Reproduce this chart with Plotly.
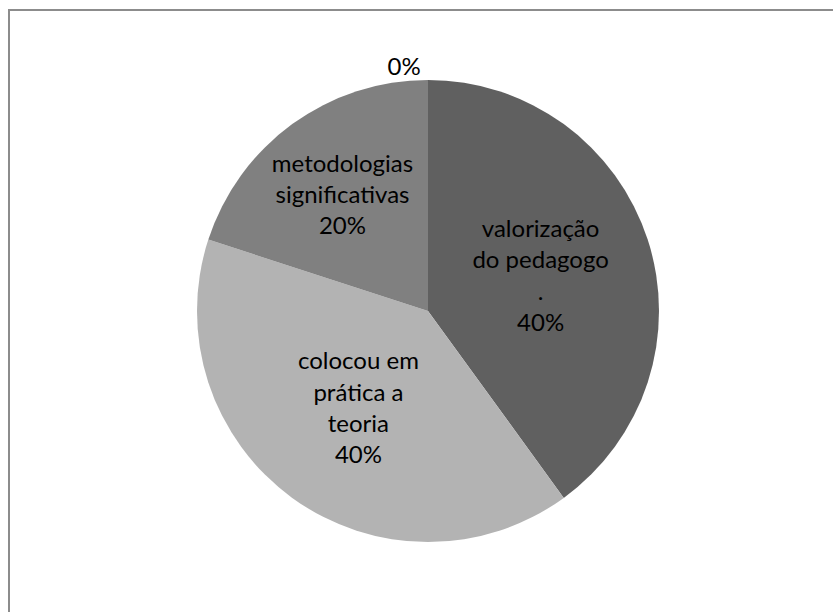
import plotly.graph_objects as go

# Category names as shown in the slice labels (line breaks included)
categories = [
    "valorização<br>do pedagogo<br>.",
    "colocou em<br>prática a<br>teoria",
    "metodologias<br>significativas",
    "",
]
shares = [40, 40, 20, 0]
slice_colors = ["#606060", "#b3b3b3", "#808080", "#9a9a9a"]

W, H = 833, 612

labels_txt = [
    (f"{c}<br>{v}%" if c else f"{v}%") for c, v in zip(categories, shares)
]

fig = go.Figure(
    go.Pie(
        labels=[c if c else "(sem nome)" for c in categories],
        values=shares,
        text=labels_txt,
        textinfo="text",
        textposition=["inside", "inside", "inside", "outside"],
        insidetextorientation="horizontal",
        sort=False,
        direction="clockwise",
        rotation=0,
        marker=dict(colors=slice_colors, line=dict(width=0)),
        textfont=dict(family="Lato, 'Open Sans', sans-serif", size=24, color="#000000"),
        showlegend=False,
        hoverinfo="skip",
        domain=dict(
            x=[(428 - 231) / W, (428 + 231) / W],
            y=[(301 - 231) / H, (301 + 231) / H],
        ),
    )
)

# Chart-area frame (its right and bottom edges run past the visible area)
fig.add_shape(
    type="rect", xref="paper", yref="paper",
    x0=9 / W, x1=1.05, y0=-0.05, y1=1 - 10 / H,
    line=dict(color="#8c8c8c", width=2),
    fillcolor="rgba(0,0,0,0)",
)

fig.update_layout(
    width=W, height=H,
    margin=dict(l=0, r=0, t=0, b=0),
    paper_bgcolor="#ffffff",
    plot_bgcolor="#ffffff",
    uniformtext=dict(minsize=24, mode="show"),
)

fig.write_html("out.html")
